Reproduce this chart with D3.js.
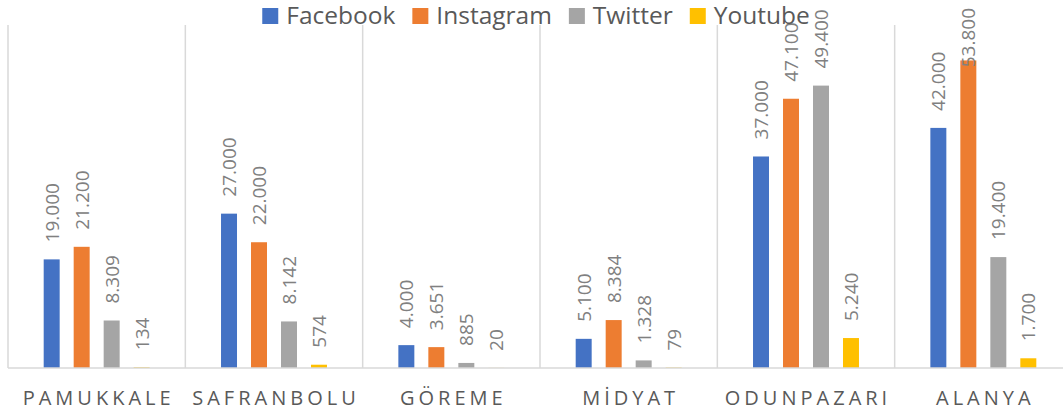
<!DOCTYPE html>
<html>
<head>
<meta charset="utf-8">
<script src="https://cdn.jsdelivr.net/npm/d3@7"></script>
<style>
  body { margin: 0; background: #fff; }
  svg { display: block; font-family: "Open Sans", sans-serif; }
</style>
</head>
<body>
<div id="chart"></div>
<script>
// chart data
const categories = ["PAMUKKALE", "SAFRANBOLU", "GÖREME", "MİDYAT", "ODUNPAZARI", "ALANYA"];
const seriesNames = ["Facebook", "Instagram", "Twitter", "Youtube"];
const facebook = [19000, 27000, 4000, 5100, 37000, 42000];
const instagram = [21200, 22000, 3651, 8384, 47100, 53800];
const twitter = [8309, 8142, 885, 1328, 49400, 19400];
const youtube = [134, 574, 20, 79, 5240, 1700];
const seriesValues = [facebook, instagram, twitter, youtube];
const colors = ["#4472C4", "#ED7D31", "#A5A5A5", "#FFC000"];

const width = 1063;
const height = 416;
// plot area (right edge runs past the picture, as in the original)
const plotLeft = 8, plotRight = 1072, plotTop = 25, plotBottom = 368;

const svg = d3.select("#chart")
    .append("svg")
    .attr("width", width)
    .attr("height", height);

const x0 = d3.scaleBand()
    .domain(categories)
    .range([plotLeft, plotRight]);

const x1 = d3.scaleBand()
    .domain(seriesNames)
    .range([0, x0.bandwidth()])
    .paddingInner(0.467)
    .paddingOuter(1.19);

const y = d3.scaleLinear()
    .domain([0, 60000])
    .range([plotBottom, plotTop]);

// number format with dot as thousands separator
const fmt = d3.formatLocale({ decimal: ",", thousands: ".", grouping: [3], currency: ["", ""] }).format(",d");

// category separators
const edges = categories.map(c => x0(c)).concat([x0(categories[categories.length - 1]) + x0.bandwidth()]);
svg.append("g")
    .selectAll("line")
    .data(edges)
    .enter()
    .append("line")
    .attr("x1", d => d)
    .attr("x2", d => d)
    .attr("y1", plotTop)
    .attr("y2", plotBottom)
    .attr("stroke", "#D9D9D9")
    .attr("stroke-width", 1.5);

// groups per category
const rows = categories.map((c, i) => ({
  cat: c,
  items: seriesNames.map((s, j) => ({ series: s, value: seriesValues[j][i], color: colors[j] }))
}));

const group = svg.append("g")
    .selectAll("g")
    .data(rows)
    .enter()
    .append("g")
    .attr("transform", d => `translate(${x0(d.cat)},0)`);

group.selectAll("rect")
    .data(d => d.items)
    .enter()
    .append("rect")
    .attr("x", d => x1(d.series))
    .attr("y", d => y(d.value))
    .attr("width", x1.bandwidth())
    .attr("height", d => y(0) - y(d.value))
    .attr("fill", d => d.color);

// rotated value labels, pushed down when they would leave the top
group.selectAll("text.val")
    .data(d => d.items)
    .enter()
    .append("text")
    .attr("class", "val")
    .attr("fill", "#808080")
    .style("font-size", "19px")
    .text(d => fmt(d.value))
    .attr("transform", function(d) {
      const len = this.getComputedTextLength();
      const start = Math.max(y(d.value) - 17, 8 + len);
      return `translate(${x1(d.series) + x1.bandwidth() / 2 + 7},${start}) rotate(-90)`;
    });

// baseline
svg.append("line")
    .attr("x1", plotLeft)
    .attr("x2", plotRight)
    .attr("y1", y(0))
    .attr("y2", y(0))
    .attr("stroke", "#D9D9D9")
    .attr("stroke-width", 1.5);

// category labels
svg.append("g")
    .selectAll("text")
    .data(categories)
    .enter()
    .append("text")
    .attr("x", d => x0(d) + x0.bandwidth() / 2 + 2)
    .attr("y", 405)
    .attr("text-anchor", "middle")
    .attr("fill", "#595959")
    .style("font-size", "20px")
    .style("letter-spacing", "4px")
    .text(d => d);

// legend
const legend = svg.append("g");
let lx = 0;
seriesNames.forEach((s, i) => {
  const item = legend.append("g").attr("transform", `translate(${lx},0)`);
  item.append("rect")
      .attr("x", 0)
      .attr("y", 8)
      .attr("width", 16)
      .attr("height", 16)
      .attr("fill", colors[i]);
  const t = item.append("text")
      .attr("x", 24)
      .attr("y", 24)
      .attr("fill", "#595959")
      .style("font-size", "24.5px")
      .text(s);
  lx += 24 + t.node().getComputedTextLength() + 17;
});
const legendWidth = lx - 17;
legend.attr("transform", `translate(${536 - legendWidth / 2},0)`);
</script>
</body>
</html>
